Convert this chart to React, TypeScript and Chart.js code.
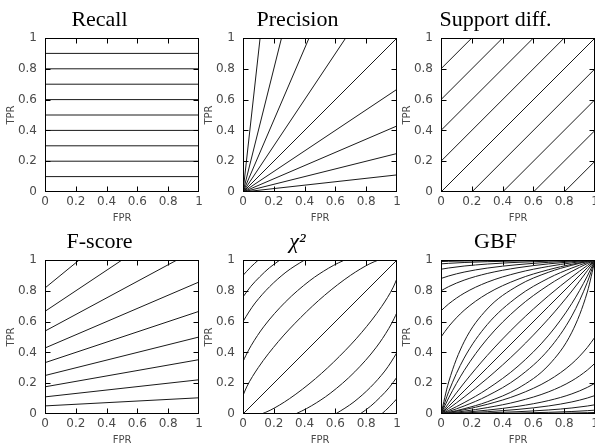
import React, { useEffect, useRef } from 'react';
import { Chart, registerables } from 'chart.js';

Chart.register(...registerables);

type Pt = [number, number];

// ---------- axis / text data ----------
const AXIS_TICKS = [0, 0.2, 0.4, 0.6, 0.8, 1];
const TICK_LABELS = ['0', '0.2', '0.4', '0.6', '0.8', '1'];
const INNER_TICKS = [0.2, 0.4, 0.6, 0.8];
const X_TITLE = 'FPR';
const Y_TITLE = 'TPR';
const PANEL_TITLES = ['Recall', 'Precision', 'Support diff.', 'F-score', 'χ²', 'GBF'];
const PANEL_TITLE_ITALIC = [false, false, false, false, true, false];

// ---------- isometric lines (FPR, TPR) ----------
const recallLines: Pt[][] = [
  [[0, 0.1], [1, 0.1]],
  [[0, 0.2], [1, 0.2]],
  [[0, 0.3], [1, 0.3]],
  [[0, 0.4], [1, 0.4]],
  [[0, 0.5], [1, 0.5]],
  [[0, 0.6], [1, 0.6]],
  [[0, 0.7], [1, 0.7]],
  [[0, 0.8], [1, 0.8]],
  [[0, 0.9], [1, 0.9]],
];

const precisionLines: Pt[][] = [
  [[0, 0], [0.111, 1]],
  [[0, 0], [0.25, 1]],
  [[0, 0], [0.429, 1]],
  [[0, 0], [0.667, 1]],
  [[0, 0], [1, 1]],
  [[0, 0], [1, 0.667]],
  [[0, 0], [1, 0.429]],
  [[0, 0], [1, 0.25]],
  [[0, 0], [1, 0.111]],
];

const supportDiffLines: Pt[][] = [
  [[0, 0.8], [0.2, 1]],
  [[0, 0.6], [0.4, 1]],
  [[0, 0.4], [0.6, 1]],
  [[0, 0.2], [0.8, 1]],
  [[0, 0], [1, 1]],
  [[0.2, 0], [1, 0.8]],
  [[0.4, 0], [1, 0.6]],
  [[0.6, 0], [1, 0.4]],
  [[0.8, 0], [1, 0.2]],
];

const fScoreLines: Pt[][] = [
  [[0, 0.0526], [1, 0.1053]],
  [[0, 0.1111], [1, 0.2222]],
  [[0, 0.1765], [1, 0.3529]],
  [[0, 0.25], [1, 0.5]],
  [[0, 0.3333], [1, 0.6667]],
  [[0, 0.4286], [1, 0.8571]],
  [[0, 0.5385], [0.8571, 1]],
  [[0, 0.6667], [0.5, 1]],
  [[0, 0.8182], [0.2222, 1]],
];

const chiSquareLines: Pt[][] = [
  [[0, 0.9], [0.048, 0.952], [0.1, 1]],
  [[0, 0.76], [0.051, 0.829], [0.109, 0.891], [0.171, 0.949], [0.24, 1]],
  [[0, 0.6], [0.038, 0.662], [0.079, 0.721], [0.173, 0.827], [0.279, 0.921], [0.338, 0.962], [0.4, 1]],
  [[0, 0.34], [0.019, 0.381], [0.054, 0.446], [0.134, 0.566], [0.274, 0.726], [0.434, 0.866], [0.554, 0.946], [0.619, 0.981], [0.66, 1]],
  [[0, 0.12], [0.024, 0.176], [0.099, 0.301], [0.23, 0.471], [0.374, 0.626], [0.53, 0.771], [0.699, 0.901], [0.824, 0.976], [0.88, 1]],
  [[0, 0], [1, 1]],
  [[0.12, 0], [0.176, 0.024], [0.301, 0.099], [0.471, 0.23], [0.626, 0.374], [0.771, 0.53], [0.901, 0.699], [0.976, 0.824], [1, 0.88]],
  [[0.34, 0], [0.381, 0.019], [0.446, 0.054], [0.566, 0.134], [0.726, 0.274], [0.866, 0.434], [0.946, 0.554], [0.981, 0.619], [1, 0.66]],
  [[0.6, 0], [0.662, 0.038], [0.721, 0.079], [0.827, 0.173], [0.921, 0.279], [0.962, 0.338], [1, 0.4]],
  [[0.76, 0], [0.829, 0.051], [0.891, 0.109], [0.949, 0.171], [1, 0.24]],
  [[0.9, 0], [0.952, 0.048], [1, 0.1]],
];

// GBF: shared FPR grid, one TPR row per isometric
const gbfFpr = [0, 0.05, 0.15, 0.3, 0.5, 0.7, 0.85, 0.95, 1];
const gbfTpr: number[][] = [
  [0.99, 0.9914, 0.9935, 0.9956, 0.9975, 0.9987, 0.9994, 0.9998, 1],
  [0.975, 0.9784, 0.9837, 0.9891, 0.9937, 0.9969, 0.9986, 0.9996, 1],
  [0.94, 0.9482, 0.9608, 0.9737, 0.985, 0.9925, 0.9967, 0.999, 1],
  [0.88, 0.8964, 0.9215, 0.9475, 0.97, 0.985, 0.9933, 0.9979, 1],
  [0.8, 0.8273, 0.8692, 0.9125, 0.95, 0.975, 0.9889, 0.9966, 1],
  [0.67, 0.715, 0.7842, 0.8556, 0.9175, 0.9587, 0.9817, 0.9943, 1],
  [0.5, 0.5682, 0.6731, 0.7812, 0.875, 0.9375, 0.9722, 0.9914, 1],
  [0, 0.2083, 0.4687, 0.6818, 0.8333, 0.9211, 0.9659, 0.9896, 1],
  [0, 0.1451, 0.3628, 0.5803, 0.7634, 0.8827, 0.9481, 0.9839, 1],
  [0, 0.1047, 0.2817, 0.4878, 0.6897, 0.8383, 0.9264, 0.9769, 1],
  [0, 0.0699, 0.2013, 0.3797, 0.5882, 0.7692, 0.8901, 0.9645, 1],
  [0, 0.05, 0.15, 0.3, 0.5, 0.7, 0.85, 0.95, 1],
  [0, 0.0355, 0.1099, 0.2308, 0.4118, 0.6203, 0.7987, 0.9301, 1],
  [0, 0.0231, 0.0736, 0.1617, 0.3103, 0.5122, 0.7183, 0.8953, 1],
  [0, 0.0161, 0.0519, 0.1173, 0.2366, 0.4197, 0.6372, 0.8549, 1],
  [0, 0.0104, 0.0341, 0.0789, 0.1667, 0.3182, 0.5313, 0.7917, 1],
  [0, 0.0086, 0.0278, 0.0625, 0.125, 0.2188, 0.3269, 0.4318, 0.5],
  [0, 0.0057, 0.0183, 0.0413, 0.0825, 0.1444, 0.2158, 0.285, 0.33],
  [0, 0.0034, 0.0111, 0.025, 0.05, 0.0875, 0.1308, 0.1727, 0.2],
  [0, 0.0021, 0.0067, 0.015, 0.03, 0.0525, 0.0785, 0.1036, 0.12],
  [0, 0.001, 0.0033, 0.0075, 0.015, 0.0263, 0.0392, 0.0518, 0.06],
  [0, 0.0004, 0.0014, 0.0031, 0.0063, 0.0109, 0.0163, 0.0216, 0.025],
  [0, 0.0002, 0.0006, 0.0013, 0.0025, 0.0044, 0.0065, 0.0086, 0.01],
];
const gbfLines: Pt[][] = gbfTpr.map((row) => row.map((t, i) => [gbfFpr[i], t] as Pt));

const PANEL_LINES: Pt[][][] = [recallLines, precisionLines, supportDiffLines, fScoreLines, chiSquareLines, gbfLines];
const PANEL_SMOOTH = [false, false, false, false, true, true];

// ---------- layout / style ----------
const COL_AREA_LEFT = [45, 243, 441];
const ROW_AREA_TOP = [38, 260];
const AREA = 154;
const Y_AXIS_W = 45;
const X_AXIS_H = 32;
const TITLE_H = 38;
const TITLE_PAD_TOP = 7;
const RIGHT_PAD = 9;
const CANVAS_W = Y_AXIS_W + AREA + RIGHT_PAD;
const CANVAS_H = TITLE_H + AREA + X_AXIS_H;
const TICK_LEN = 5;
const LINE_COLOR = '#1a1a1a';
const FRAME_COLOR = '#000';
const TICK_COLOR = '#4a4a4a';
const AXIS_TITLE_COLOR = '#4a4a4a';

const framePlugin = {
  id: 'isoFrame',
  afterDatasetsDraw(chart: any) {
    const { ctx, chartArea: a, scales } = chart;
    const L = Math.round(a.left) + 0.5;
    const R = Math.round(a.right) - 0.5;
    const T = Math.round(a.top) + 0.5;
    const B = Math.round(a.bottom) - 0.5;
    ctx.save();
    ctx.strokeStyle = FRAME_COLOR;
    ctx.lineWidth = 1;
    ctx.strokeRect(L, T, R - L, B - T);
    ctx.beginPath();
    INNER_TICKS.forEach((v) => {
      const x = Math.round(scales.x.getPixelForValue(v)) + 0.5;
      const y = Math.round(scales.y.getPixelForValue(v)) + 0.5;
      ctx.moveTo(x, B); ctx.lineTo(x, B - TICK_LEN);
      ctx.moveTo(x, T); ctx.lineTo(x, T + TICK_LEN);
      ctx.moveTo(L, y); ctx.lineTo(L + TICK_LEN, y);
      ctx.moveTo(R, y); ctx.lineTo(R - TICK_LEN, y);
    });
    ctx.stroke();
    ctx.restore();
  },
};

const tickFont = { family: 'DejaVu Sans', size: 12 };
const axisTitleFont = { family: 'DejaVu Sans', size: 10 };
const noGrid = { display: false, drawTicks: false, tickLength: 0 };

function makeConfig(idx: number): any {
  const lines = PANEL_LINES[idx];
  const smooth = PANEL_SMOOTH[idx];
  const setTicks = (s: any) => {
    s.ticks = AXIS_TICKS.map((v) => ({ value: v }));
  };
  return {
    type: 'scatter',
    data: {
      datasets: lines.map((l) => ({
        data: l.map(([x, y]) => ({ x, y })),
        showLine: true,
        borderColor: LINE_COLOR,
        backgroundColor: LINE_COLOR,
        borderWidth: 1,
        pointRadius: 0,
        pointHoverRadius: 0,
        fill: false,
        tension: 0,
        cubicInterpolationMode: smooth ? 'monotone' : 'default',
      })),
    },
    options: {
      responsive: false,
      animation: false,
      events: [],
      layout: { padding: { left: 0, right: RIGHT_PAD, top: 0, bottom: 0 } },
      plugins: {
        legend: { display: false },
        tooltip: { enabled: false },
        title: {
          display: true,
          text: PANEL_TITLES[idx],
          color: '#000',
          font: {
            family: 'Liberation Serif',
            size: 22,
            weight: 'normal',
            style: PANEL_TITLE_ITALIC[idx] ? 'italic' : 'normal',
            lineHeight: 1.2,
          },
          padding: { top: TITLE_PAD_TOP, bottom: TITLE_H - TITLE_PAD_TOP - 26.4 },
        },
      },
      scales: {
        x: {
          type: 'linear',
          min: 0,
          max: 1,
          grid: noGrid,
          border: { display: false },
          afterBuildTicks: setTicks,
          afterFit: (s: any) => { s.height = X_AXIS_H; },
          ticks: {
            color: TICK_COLOR,
            font: tickFont,
            padding: 3,
            maxRotation: 0,
            autoSkip: false,
            callback: (_v: any, i: number) => TICK_LABELS[i],
          },
          title: { display: true, text: X_TITLE, color: AXIS_TITLE_COLOR, font: axisTitleFont, padding: { top: 0, bottom: 0 } },
        },
        y: {
          type: 'linear',
          min: 0,
          max: 1,
          grid: noGrid,
          border: { display: false },
          afterBuildTicks: setTicks,
          afterFit: (s: any) => { s.width = Y_AXIS_W; },
          ticks: {
            color: TICK_COLOR,
            font: tickFont,
            padding: 8,
            autoSkip: false,
            callback: (_v: any, i: number) => TICK_LABELS[i],
          },
          title: { display: true, text: Y_TITLE, color: AXIS_TITLE_COLOR, font: axisTitleFont, padding: { top: 5, bottom: 0 } },
        },
      },
    },
    plugins: [framePlugin],
  };
}

export default function App() {
  const refs = useRef<(HTMLCanvasElement | null)[]>([]);

  useEffect(() => {
    document.body.style.margin = '0';
    const charts = refs.current.map((c, i) => (c ? new Chart(c, makeConfig(i)) : null));
    return () => {
      charts.forEach((ch) => ch && ch.destroy());
    };
  }, []);

  return (
    <div style={{ position: 'absolute', left: 0, top: 0, width: 595, height: 447, overflow: 'hidden', background: '#fff' }}>
      {PANEL_TITLES.map((t, i) => (
        <canvas
          key={t}
          ref={(el) => { refs.current[i] = el; }}
          width={CANVAS_W}
          height={CANVAS_H}
          style={{
            position: 'absolute',
            left: COL_AREA_LEFT[i % 3] - Y_AXIS_W,
            top: ROW_AREA_TOP[Math.floor(i / 3)] - TITLE_H,
            width: CANVAS_W,
            height: CANVAS_H,
          }}
        />
      ))}
    </div>
  );
}
